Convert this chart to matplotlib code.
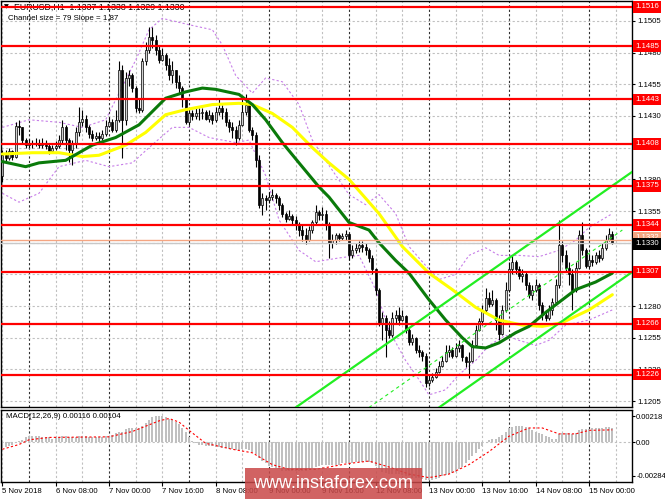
import matplotlib
matplotlib.use("Agg")
import matplotlib.pyplot as plt
import matplotlib.transforms as mtrans
from matplotlib.patches import Rectangle
import numpy as np

plt.rcParams['font.family'] = ['Liberation Sans', 'DejaVu Sans']

# EURUSD H1 candles, bar 0 = 5 Nov 16:00 ... bar 183 = 15 Nov 07:00
first_open = 1.1383
close = [1.1399, 1.1397, 1.1402, 1.1398, 1.1422, 1.1421, 1.1411, 1.1407, 1.1409, 1.1408,
         1.1409, 1.1407, 1.1409, 1.1406, 1.1402, 1.1405, 1.1406, 1.1411, 1.1421, 1.1411,
         1.1403, 1.1409, 1.1417, 1.1425, 1.1428, 1.1421, 1.1416, 1.1413, 1.1414, 1.1413,
         1.1416, 1.1422, 1.1425, 1.1419, 1.1427, 1.1466, 1.1427, 1.1460, 1.1462, 1.1452,
         1.1436, 1.1435, 1.1473, 1.1482, 1.1492, 1.1490, 1.1482, 1.1474, 1.1478, 1.1470,
         1.1462, 1.1466, 1.1457, 1.1452, 1.1443, 1.1425, 1.1432, 1.1430, 1.1432, 1.1432,
         1.1433, 1.1428, 1.1431, 1.1427, 1.1433, 1.1436, 1.1433, 1.1425, 1.1421, 1.1419,
         1.1413, 1.1423, 1.1433, 1.1439, 1.1419, 1.1415, 1.1395, 1.1360, 1.1365, 1.1364,
         1.1366, 1.1368, 1.1365, 1.1360, 1.1353, 1.1349, 1.1351, 1.1348, 1.1344, 1.1340,
         1.1336, 1.1332, 1.1340, 1.1346, 1.1354, 1.1352, 1.1353, 1.1344, 1.1330, 1.1332,
         1.1336, 1.1334, 1.1335, 1.1337, 1.1320, 1.1324, 1.1326, 1.1328, 1.1327, 1.1324,
         1.1318, 1.1309, 1.1293, 1.1267, 1.1271, 1.1261, 1.1257, 1.1271, 1.1273, 1.1269,
         1.1272, 1.1261, 1.1252, 1.1255, 1.1245, 1.1244, 1.1241, 1.1219, 1.1222, 1.1224,
         1.1228, 1.1233, 1.1237, 1.1244, 1.1245, 1.1241, 1.1247, 1.1249, 1.1240, 1.1236,
         1.1237, 1.1249, 1.1261, 1.1268, 1.1277, 1.1286, 1.1282, 1.1285, 1.1269, 1.1258,
         1.1277, 1.1293, 1.1309, 1.1315, 1.1309, 1.1304, 1.1305, 1.1297, 1.1289, 1.1293,
         1.1297, 1.1281, 1.1273, 1.1271, 1.1277, 1.1283, 1.1297, 1.1328, 1.1320, 1.1310,
         1.1305, 1.1293, 1.1310, 1.1336, 1.1324, 1.1312, 1.1316, 1.1315, 1.1320, 1.1318,
         1.1326, 1.1332, 1.1337, 1.1330]
high = [1.1403, 1.1403, 1.1405, 1.1403, 1.1425, 1.1427, 1.1421, 1.1413, 1.1412, 1.1411,
        1.1413, 1.1412, 1.1413, 1.1411, 1.1408, 1.1407, 1.1410, 1.1415, 1.1427, 1.1423,
        1.1413, 1.1411, 1.1421, 1.1437, 1.1435, 1.1431, 1.1423, 1.1419, 1.1417, 1.1417,
        1.1419, 1.1427, 1.1429, 1.1428, 1.1435, 1.1473, 1.1470, 1.1465, 1.1466, 1.1464,
        1.1454, 1.1443, 1.1476, 1.1488, 1.1500, 1.1500, 1.1494, 1.1486, 1.1484, 1.1480,
        1.1476, 1.1473, 1.1466, 1.1462, 1.1454, 1.1444, 1.1436, 1.1435, 1.1436, 1.1436,
        1.1436, 1.1435, 1.1435, 1.1433, 1.1437, 1.1444, 1.1439, 1.1436, 1.1428, 1.1425,
        1.1422, 1.1427, 1.1443, 1.1447, 1.1440, 1.1421, 1.1417, 1.1399, 1.1369, 1.1368,
        1.1370, 1.1372, 1.1369, 1.1367, 1.1361, 1.1354, 1.1356, 1.1353, 1.1351, 1.1346,
        1.1344, 1.1342, 1.1343, 1.1348, 1.1360, 1.1356, 1.1358, 1.1356, 1.1346, 1.1337,
        1.1338, 1.1338, 1.1338, 1.1340, 1.1338, 1.1328, 1.1330, 1.1331, 1.1331, 1.1330,
        1.1326, 1.1320, 1.1310, 1.1294, 1.1275, 1.1273, 1.1268, 1.1275, 1.1277, 1.1279,
        1.1277, 1.1273, 1.1263, 1.1258, 1.1256, 1.1249, 1.1245, 1.1243, 1.1226, 1.1227,
        1.1231, 1.1237, 1.1241, 1.1249, 1.1249, 1.1248, 1.1251, 1.1253, 1.1250, 1.1241,
        1.1244, 1.1253, 1.1265, 1.1271, 1.1281, 1.1294, 1.1291, 1.1293, 1.1286, 1.1273,
        1.1281, 1.1299, 1.1315, 1.1320, 1.1316, 1.1312, 1.1309, 1.1307, 1.1299, 1.1297,
        1.1301, 1.1298, 1.1283, 1.1277, 1.1281, 1.1286, 1.1301, 1.1348, 1.1331, 1.1324,
        1.1315, 1.1309, 1.1315, 1.1340, 1.1346, 1.1326, 1.1320, 1.1320, 1.1323, 1.1324,
        1.1330, 1.1336, 1.1342, 1.1339]
low = [1.1378, 1.1394, 1.1395, 1.1395, 1.1397, 1.1415, 1.1409, 1.1405, 1.1405, 1.1405,
       1.1406, 1.1405, 1.1405, 1.1404, 1.1400, 1.1401, 1.1403, 1.1405, 1.1409, 1.1403,
       1.1394, 1.1391, 1.1405, 1.1414, 1.1422, 1.1417, 1.1413, 1.1410, 1.1411, 1.1409,
       1.1411, 1.1414, 1.1421, 1.1417, 1.1417, 1.1425, 1.1397, 1.1423, 1.1454, 1.1449,
       1.1433, 1.1432, 1.1433, 1.1470, 1.1480, 1.1484, 1.1478, 1.1472, 1.1473, 1.1466,
       1.1458, 1.1456, 1.1452, 1.1448, 1.1437, 1.1424, 1.1423, 1.1427, 1.1428, 1.1427,
       1.1428, 1.1427, 1.1425, 1.1424, 1.1425, 1.1431, 1.1428, 1.1422, 1.1417, 1.1413,
       1.1407, 1.1411, 1.1422, 1.1431, 1.1417, 1.1411, 1.1390, 1.1357, 1.1352, 1.1356,
       1.1361, 1.1364, 1.1361, 1.1356, 1.1350, 1.1346, 1.1348, 1.1345, 1.1340, 1.1335,
       1.1331, 1.1329, 1.1331, 1.1338, 1.1344, 1.1348, 1.1348, 1.1340, 1.1318, 1.1326,
       1.1329, 1.1331, 1.1332, 1.1332, 1.1316, 1.1318, 1.1322, 1.1323, 1.1323, 1.1320,
       1.1315, 1.1305, 1.1289, 1.1264, 1.1253, 1.1240, 1.1255, 1.1256, 1.1267, 1.1265,
       1.1268, 1.1259, 1.1249, 1.1249, 1.1243, 1.1240, 1.1237, 1.1216, 1.1217, 1.1220,
       1.1223, 1.1227, 1.1232, 1.1236, 1.1240, 1.1239, 1.1240, 1.1244, 1.1237, 1.1232,
       1.1223, 1.1236, 1.1248, 1.1260, 1.1265, 1.1275, 1.1279, 1.1280, 1.1261, 1.1253,
       1.1257, 1.1275, 1.1291, 1.1305, 1.1305, 1.1301, 1.1299, 1.1293, 1.1286, 1.1285,
       1.1291, 1.1277, 1.1269, 1.1268, 1.1269, 1.1273, 1.1281, 1.1294, 1.1315, 1.1307,
       1.1297, 1.1277, 1.1291, 1.1309, 1.1320, 1.1310, 1.1310, 1.1312, 1.1313, 1.1315,
       1.1316, 1.1324, 1.1331, 1.1329]

# support / resistance levels
levels = [1.1516, 1.1485, 1.1443, 1.1408, 1.1375, 1.1344, 1.1307, 1.1266, 1.1226]
bid = 1.1330
ask = 1.1332

# moving averages (bar, price)
green_bar = [0, 7, 11, 19, 27, 34, 41, 49, 55, 60, 64, 71, 75, 79, 84, 89, 95, 98, 104,
             110, 113, 118, 122, 128, 133, 138, 141, 145, 149, 154, 158, 163, 168, 172, 178, 183]
green_val = [1.1394, 1.1390, 1.1393, 1.1395, 1.1407, 1.1413, 1.1423, 1.1444, 1.1449, 1.1452,
             1.1451, 1.1447, 1.1439, 1.1427, 1.1409, 1.1393, 1.1374, 1.1366, 1.1346, 1.1340,
             1.1330, 1.1316, 1.1306, 1.1285, 1.1269, 1.1255, 1.1248, 1.1247, 1.1251, 1.1259,
             1.1264, 1.1275, 1.1285, 1.1293, 1.1299, 1.1306]
yellow_bar = [0, 9, 17, 24, 29, 37, 43, 49, 55, 63, 71, 75, 81, 87, 93, 98, 104, 113, 120,
              128, 135, 142, 149, 156, 162, 168, 176, 183]
yellow_val = [1.1400, 1.1401, 1.1401, 1.1398, 1.1399, 1.1407, 1.1417, 1.1431, 1.1435, 1.1439,
              1.1440, 1.1439, 1.1432, 1.1421, 1.1405, 1.1393, 1.1380, 1.1353, 1.1327, 1.1306,
              1.1293, 1.1279, 1.1269, 1.1265, 1.1264, 1.1267, 1.1277, 1.1289]

# envelope bands (dotted violet)
band_up_bar = [0, 8, 17, 24, 31, 35, 40, 44, 48, 56, 63, 66, 70, 75, 79, 84, 89, 93, 98,
               104, 109, 113, 118, 122, 127, 131, 136, 140, 145, 149, 155, 161, 167, 172, 176, 183]
band_up_val = [1.1421, 1.1427, 1.1425, 1.1421, 1.1427, 1.1448, 1.1474, 1.1498, 1.1507, 1.1502,
               1.1498, 1.1486, 1.1462, 1.1448, 1.1460, 1.1457, 1.1439, 1.1411, 1.1391, 1.1368,
               1.1360, 1.1368, 1.1353, 1.1327, 1.1312, 1.1301, 1.1305, 1.1320, 1.1326, 1.1320,
               1.1320, 1.1319, 1.1324, 1.1332, 1.1342, 1.1353]
band_lo_bar = [0, 5, 11, 17, 25, 32, 39, 44, 51, 56, 62, 70, 74, 79, 83, 89, 94, 101, 107,
               112, 116, 121, 125, 128, 133, 137, 142, 146, 151, 155, 160, 164, 169, 176, 183]
band_lo_val = [1.1369, 1.1362, 1.1369, 1.1390, 1.1395, 1.1390, 1.1393, 1.1405, 1.1421, 1.1421,
               1.1413, 1.1409, 1.1411, 1.1383, 1.1348, 1.1324, 1.1315, 1.1318, 1.1320, 1.1293,
               1.1261, 1.1237, 1.1222, 1.1210, 1.1214, 1.1226, 1.1237, 1.1249, 1.1257, 1.1253,
               1.1249, 1.1253, 1.1265, 1.1269, 1.1277]

# regression channel (bar, price end points)
chan_upper = ([88, 189], [1.1200, 1.1386])
chan_mid = ([110, 186], [1.1200, 1.1340])
chan_lower = ([131, 189], [1.1200, 1.1307])

# MACD(12,26,9) histogram, one value per bar
macd_hist = [-0.0005, -0.0004, -0.0003, -0.0002, -0.0001, 0.0001, 0.0002, 0.0004, 0.0005, 0.0005,
             0.0005, 0.0005, 0.0004, 0.0004, 0.0004, 0.0003, 0.0004, 0.0004, 0.0005, 0.0005,
             0.0004, 0.0004, 0.0004, 0.0005, 0.0005, 0.0005, 0.0004, 0.0004, 0.0004, 0.0004,
             0.0004, 0.0005, 0.0005, 0.0006, 0.0008, 0.0009, 0.0009, 0.0011, 0.0012, 0.0012,
             0.0012, 0.0012, 0.0014, 0.0016, 0.0019, 0.0021, 0.0022, 0.0022, 0.0022, 0.0021,
             0.0020, 0.0019, 0.0017, 0.0015, 0.0012, 0.0009, 0.0004, 0.0001, -0.0001, -0.0002,
             -0.0002, -0.0003, -0.0003, -0.0003, -0.0004, -0.0004, -0.0005, -0.0005, -0.0006, -0.0006,
             -0.0007, -0.0007, -0.0006, -0.0006, -0.0007, -0.0008, -0.0010, -0.0013, -0.0016, -0.0018,
             -0.0020, -0.0021, -0.0022, -0.0023, -0.0024, -0.0024, -0.0024, -0.0024, -0.0024, -0.0024,
             -0.0024, -0.0024, -0.0023, -0.0022, -0.0021, -0.0020, -0.0019, -0.0019, -0.0019, -0.0019,
             -0.0019, -0.0019, -0.0018, -0.0018, -0.0018, -0.0018, -0.0017, -0.0017, -0.0017, -0.0017,
             -0.0017, -0.0018, -0.0020, -0.0023, -0.0025, -0.0026, -0.0027, -0.0027, -0.0027, -0.0027,
             -0.0028, -0.0029, -0.0029, -0.0030, -0.0030, -0.0030, -0.0031, -0.0032, -0.0032, -0.0032,
             -0.0031, -0.0030, -0.0029, -0.0028, -0.0027, -0.0026, -0.0025, -0.0023, -0.0021, -0.0018,
             -0.0015, -0.0012, -0.0009, -0.0006, -0.0003, 0.0000, 0.0002, 0.0003, 0.0003, 0.0004,
             0.0006, 0.0009, 0.0012, 0.0013, 0.0014, 0.0014, 0.0014, 0.0013, 0.0012, 0.0010,
             0.0009, 0.0008, 0.0007, 0.0005, 0.0004, 0.0003, 0.0003, 0.0007, 0.0008, 0.0008,
             0.0008, 0.0007, 0.0008, 0.0010, 0.0011, 0.0011, 0.0011, 0.0012, 0.0012, 0.0012,
             0.0012, 0.0013, 0.0013, 0.00116]
sig_bar = [0, 5, 8, 14, 32, 39, 47, 50, 53, 56, 61, 69, 75, 81, 86, 94, 98, 104, 110, 116,
           122, 128, 134, 140, 146, 152, 158, 162, 167, 172, 176, 183]
sig_val = [-0.0006, -0.0002, 0.0002, 0.0004, 0.00045, 0.0009, 0.0018, 0.0020, 0.0017, 0.0010,
           -0.0001, -0.0006, -0.0009, -0.0019, -0.0023, -0.0023, -0.0021, -0.0018, -0.0016, -0.0021,
           -0.0027, -0.0030, -0.0027, -0.0019, -0.0008, 0.0005, 0.0012, 0.0012, 0.0007, 0.0007,
           0.0010, 0.00104]

date_bar = [0, 16, 32, 48, 64, 80, 96, 112, 128, 144, 160, 176]
date_lbl = ['5 Nov 2018', '6 Nov 08:00', '7 Nov 00:00', '7 Nov 16:00', '8 Nov 08:00',
            '9 Nov 00:00', '9 Nov 16:00', '12 Nov 08:00', '13 Nov 00:00', '13 Nov 16:00',
            '14 Nov 08:00', '15 Nov 00:00']
day_start = [8, 32, 56, 80, 104, 128, 152, 176]

W, H = 665, 499
fig = plt.figure(figsize=(W / 100, H / 100), dpi=100)
ax = fig.add_axes([1 / W, 1 - 407 / H, 631 / W, 406 / H])
mx = fig.add_axes([1 / W, 1 - 482 / H, 631 / W, 72 / H])

close = np.array(close)
high = np.array(high)
low = np.array(low)
opn = np.concatenate([[first_open], close[:-1]])
bars = np.arange(len(close))

# grid
for a in (ax, mx):
    a.set_xlim(-0.4, 188.9)
    for b in range(0, 189, 8):
        if b in day_start:
            a.axvline(b, color='#303030', lw=0.8, ls=(0, (2, 2)), zorder=0)
        else:
            a.axvline(b, color='#c0c0c0', lw=0.8, ls=(0, (2, 2)), zorder=0)
    for s in a.spines.values():
        s.set_color('black')
        s.set_linewidth(1.0)

ax.set_ylim(1.12004, 1.15207)
yt = np.arange(1.1205, 1.1510, 0.0025)
for v in yt:
    ax.axhline(v, color='#c0c0c0', lw=0.8, ls=(0, (2, 2)), zorder=0)

# bands
ax.plot(band_up_bar, band_up_val, color='#c77ee8', lw=0.8, ls=(0, (2, 2)), zorder=1)
ax.plot(band_lo_bar, band_lo_val, color='#c77ee8', lw=0.8, ls=(0, (2, 2)), zorder=1)

# candles
ax.vlines(bars, low, high, color='black', lw=0.8, zorder=2)
up = close >= opn
bot = np.minimum(opn, close)
hgt = np.maximum(np.abs(close - opn), 0.00003)
ax.bar(bars[up], hgt[up], bottom=bot[up], width=0.62, color='#d0d0d0',
       edgecolor='black', lw=0.5, zorder=2)
ax.bar(bars[~up], hgt[~up], bottom=bot[~up], width=0.62, color='black',
       edgecolor='black', lw=0.5, zorder=2)

# moving averages
ax.plot(yellow_bar, yellow_val, color='#ffff00', lw=2.2, zorder=3, solid_capstyle='round')
ax.plot(green_bar, green_val, color='#0a7a0a', lw=2.2, zorder=3, solid_capstyle='round')

# channel
ax.plot(*chan_upper, color='#22ee22', lw=1.6, zorder=3)
ax.plot(*chan_lower, color='#22ee22', lw=1.6, zorder=3)
ax.plot(*chan_mid, color='#22ee22', lw=0.8, ls=(0, (3, 3)), zorder=3)

# levels
trans = mtrans.blended_transform_factory(ax.transAxes, ax.transData)
ax.axhline(ask, color='#f4a582', lw=1.0, zorder=3)
ax.axhline(bid, color='#c8c8c8', lw=1.0, zorder=3)
for lv in levels:
    ax.axhline(lv, color='#ff0000', lw=1.6, zorder=4)

ax.yaxis.tick_right()
ax.set_yticks(yt)
ax.set_yticklabels(['%.4f' % v for v in yt])
ax.tick_params(axis='y', labelsize=5.6, length=2, pad=2, colors='black')
ax.set_xticks([])

for lv in levels:
    ax.text(1.005, lv, '%.4f' % lv, transform=trans, color='white', fontsize=5.6,
            va='center', ha='left', clip_on=False, zorder=10,
            bbox=dict(boxstyle='square,pad=0.3', fc='#ff0000', ec='none'))
ax.text(1.005, ask + 0.0002, '%.4f' % ask, transform=trans, color='white', fontsize=5.6,
        va='center', ha='left', clip_on=False, zorder=10,
        bbox=dict(boxstyle='square,pad=0.3', fc='#f4a582', ec='none'))
ax.text(1.005, bid - 0.0001, '%.4f' % bid, transform=trans, color='white', fontsize=5.6,
        va='center', ha='left', clip_on=False, zorder=11,
        bbox=dict(boxstyle='square,pad=0.3', fc='black', ec='none'))

ax.text(4 / W, 1 - 7 / H, '\u25bc', transform=fig.transFigure, fontsize=4.5,
        va='center', ha='left', zorder=1, family='DejaVu Sans')
ax.text(14 / W, 1 - 7 / H, 'EURUSD,H1  1.1337 1.1338 1.1329 1.1330',
        transform=fig.transFigure, fontsize=6.3, va='center', ha='left', zorder=1)
ax.text(8 / W, 1 - 19 / H, 'Channel size = 79 Slope = 1,87',
        transform=fig.transFigure, fontsize=5.7, va='center', ha='left', zorder=1)

# MACD panel
mx.set_ylim(-0.00337, 0.00272)
mx.axhline(0, color='#c0c0c0', lw=0.8, ls=(0, (2, 2)), zorder=0)
mx.bar(bars, macd_hist, width=0.55, color='#c0c0c0', zorder=1)
mx.plot(sig_bar, sig_val, color='#ff0000', lw=0.8, ls=(0, (2, 2)), zorder=2)
mx.yaxis.tick_right()
mx.set_yticks([0.00218, 0.0, -0.00284])
mx.set_yticklabels(['0.00218', '0.00', '-0.00284'])
mx.tick_params(axis='y', labelsize=5.5, length=2, pad=1)
mx.set_xticks(date_bar)
mx.set_xticklabels(date_lbl)
mx.tick_params(axis='x', labelsize=5.6, length=3, pad=1)
for t in mx.get_xticklabels():
    t.set_ha('left')
mx.text(6 / W, 1 - 417 / H, 'MACD(12,26,9) 0.00116 0.00104', transform=fig.transFigure,
        fontsize=5.7, va='center', ha='left')

# watermark
fig.patches.append(Rectangle((245 / W, 0), 177 / W, 31 / H, transform=fig.transFigure,
                             facecolor='#c94848', alpha=0.85, edgecolor='none', zorder=20))
fig.text(333 / W, 1 - 484 / H, 'www.instaforex.com', color='white', fontsize=13,
         ha='center', va='center', zorder=21)

fig.savefig('out.png', dpi=100)
